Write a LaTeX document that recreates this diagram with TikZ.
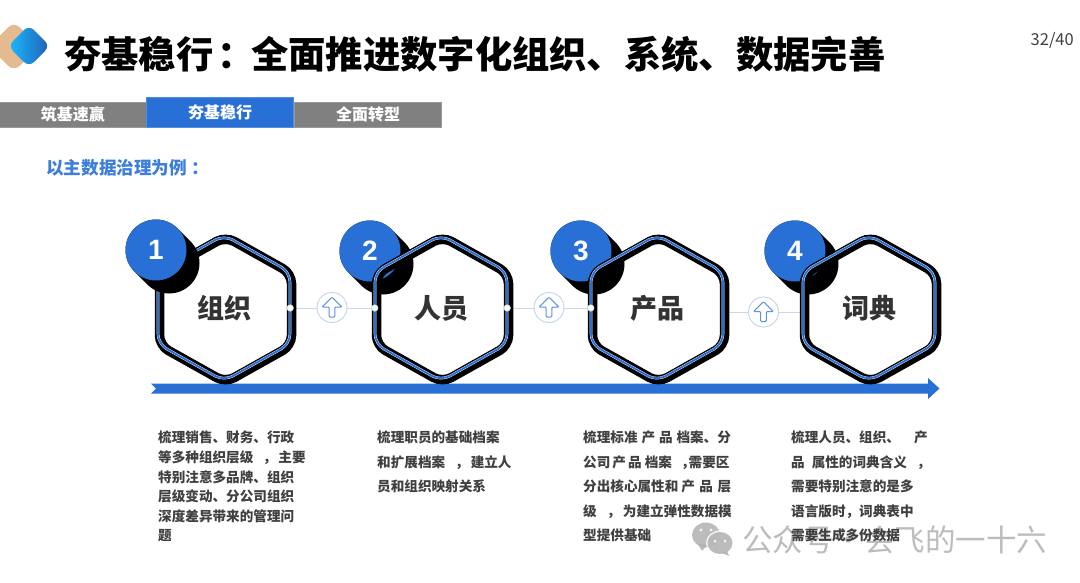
\documentclass[tikz,border=0pt]{standalone}
\usepackage{fontspec}
\setmainfont{Noto Sans CJK SC}
\newfontfamily\numfont{Liberation Sans}
\usepackage{xcolor}
\usepackage{tikz}
\usetikzlibrary{calc,shapes.arrows}
\definecolor{ink}{RGB}{64,64,64}
\definecolor{flowblue}{RGB}{40,112,214}
\definecolor{tabgray}{RGB}{128,128,128}
\definecolor{paleline}{RGB}{200,216,236}
\definecolor{tan}{RGB}{228,186,144}
\definecolor{markgray}{RGB}{176,176,176}
\tikzset{
  titletext/.style={anchor=west,inner sep=0pt,font=\fontsize{37.3}{37}\selectfont\bfseries,text=black},
  tabbox/.style={fill=#1,draw=#1!80!white,line width=0.6pt,inner sep=0pt,outer sep=0pt,text=white,
    minimum width=147pt,font=\fontsize{16}{16}\selectfont\bfseries},
  hexname/.style={minimum width=132pt,minimum height=30pt,inner sep=0pt,text=ink!80!black,
    font=\fontsize{27}{27}\selectfont\bfseries},
  hexshadow/.style={draw=black,line width=9.5pt,rounded corners=10pt},
  hexhalo/.style={draw=white,line width=2.6pt,rounded corners=10pt},
  hexline/.style={draw=flowblue,line width=1.9pt,rounded corners=10pt},
  badge/.style={circle,fill=flowblue,minimum size=61pt,inner sep=0pt,text=white,
    font=\numfont\fontsize{28}{28}\selectfont\bfseries},
  port/.style={circle,fill=white,draw=paleline,line width=0.6pt,minimum size=6.5pt,inner sep=0pt},
  link/.style={draw=paleline,line width=1pt},
  linkring/.style={circle,fill=white,draw=paleline,line width=1pt,minimum size=30pt,inner sep=0pt},
  linkarrow/.style={single arrow,shape border rotate=90,draw=flowblue!75!white,fill=white,line width=1pt,
    minimum width=20pt,minimum height=20pt,single arrow head extend=6pt,inner sep=1.8pt,rounded corners=1pt},
  bodytext/.style={anchor=north west,align=left,inner sep=0pt,text=ink,
    font=\fontsize{13.6}{#1}\selectfont\bfseries},
  wmark/.style={anchor=west,inner sep=0pt,text=markgray,opacity=0.85,font=\fontsize{30.5}{30}\selectfont}
}
% hexagon frame round the centre x,y
\newcommand{\hexpath}{(66,0) -- (66,36) -- (0,73) -- (-66,36) -- (-66,-36) -- (0,-73) -- (66,-36) -- cycle}
\newcommand{\hexframe}[2]{
  \draw[hexshadow,shift={(#1+1.5,#2+1.5)}] \hexpath;
  \draw[hexhalo,shift={(#1,#2)}] \hexpath;
  \draw[hexline,shift={(#1,#2)}] \hexpath;
}
% number disc with its swept shadow
\newcommand{\numdisc}[4]{
  \draw[black,line width=61pt,line cap=round] (#2,#3) -- ++(13,13);
  \node[badge] (#1) at (#2,#3) {#4};
}
\newcommand{\gap}[1]{\hspace{#1pt}}
\begin{document}
\begin{tikzpicture}[x=1pt,y=-1pt]
  \useasboundingbox (0,0) rectangle (1080,582);

  % logo
  \fill[tan,rounded corners=8pt] (14,21.5) -- (39,46.5) -- (14,71.5) -- (-11,46.5) -- cycle;
  \shade[left color=cyan!70!blue!90,right color=flowblue!85!black,rounded corners=7pt]
    (29,25) -- (50,46) -- (29,67) -- (8,46) -- cycle;

  \node[titletext] (title) at (64,54) {夯基稳行\gap{4}：\gap{-3.5}全面推进数字化组织、系统、数据完善};
  \node[anchor=east,inner sep=0pt,text=ink,font=\fontsize{16.5}{16}\selectfont] (page) at (1074,40) {32/40};

  \node[tabbox=tabgray,minimum height=25pt] (tabone) at (73,114.5) {筑基速赢};
  \node[tabbox=tabgray,minimum height=25pt] (tabthree) at (368,114.5) {全面转型};
  \node[tabbox=flowblue,minimum height=30pt] (tabtwo) at (220,112) {夯基稳行};

  \node[anchor=west,inner sep=0pt,text=flowblue!90!white,font=\fontsize{17.6}{18}\selectfont\bfseries] (lead) at (46,168)
    {以主数据治理为例\gap{5}：};

  % time axis
  \fill[flowblue] (151,383.5) -- (928,383.5) -- (928,378) -- (939.5,388.5) -- (928,399) -- (928,393.5)
    -- (151,393.5) -- (156,388.5) -- cycle;

  \node[hexname] (org) at (224,308) {\raisebox{-1pt}{组织}};
  \node[hexname] (staff) at (441,308) {\raisebox{-1pt}{人员}};
  \node[hexname] (prod) at (657,308) {\raisebox{-1pt}{产品}};
  \node[hexname] (dict) at (869,308) {\raisebox{-1pt}{词典}};

  \coordinate (prodout) at (725,312);
  \coordinate (dictin) at (803,312);
  \draw[link] (org.east) -- (staff.west);
  \draw[link] (staff.east) -- (prod.west);
  \draw[link] (prodout) -- (dictin);

  \node[linkring] (ringa) at (332,307.5) {};
  \node[linkring] (ringb) at (549,307.5) {};
  \node[linkring] (ringc) at (763.5,312) {};
  \node[linkarrow] (arrowa) at (332,308.5) {};
  \node[linkarrow] (arrowb) at (549,308.5) {};
  \node[linkarrow] (arrowc) at (763.5,313) {};

  \hexframe{224}{308}
  \numdisc{numa}{156}{250}{1}
  \numdisc{numb}{370}{251}{2}
  \hexframe{441}{308}
  \numdisc{numc}{581}{251}{3}
  \hexframe{657}{308}
  \numdisc{numd}{795}{251}{4}
  \hexframe{869}{308}

  \node[port] (orgport) at (org.east) {};
  \node[port] (staffin) at (staff.west) {};
  \node[port] (staffport) at (staff.east) {};
  \node[port] (prodin) at (prod.west) {};

  % watermark
  \begin{scope}[opacity=0.85]
    \fill[markgray] (706,535) ellipse [x radius=14,y radius=12.5];
    \fill[markgray] (698,544) -- (702,551) -- (707,545) -- cycle;
    \fill[white] (720,543) ellipse [x radius=14,y radius=12.5];
    \fill[markgray] (720,543) ellipse [x radius=12.5,y radius=11];
    \fill[markgray] (727,551) -- (729,556) -- (722,553) -- cycle;
    \fill[white] (701,530) circle (1.7) (711,530) circle (1.7) (715,541) circle (1.5) (725,541) circle (1.5);
  \end{scope}
  \node[wmark] (wmtext) at (742,540) {公众号·会飞的一十六};

  \node[bodytext=19.6] (orgtext) at (158,431) {梳理销售、财务、行政\\等多种组织层级\gap{9.5}，\gap{2}主要\\特别注意多品牌、组织\\层级变动、分公司组织\\深度差异带来的管理问\\题};
  \node[bodytext=24.5] (stafftext) at (377,431) {梳理职员的基础档案\\和扩展档案\gap{10}，\gap{2}建立人\\员和组织映射关系};
  \node[bodytext=24.5] (prodtext) at (583,431) {梳理标准\gap{4}产\gap{4}品\gap{3.7}档案、分\\公司\gap{2}产\gap{2}品\gap{3.3}档案\gap{9}，\gap{-6}需要区\\分出核心属性和\gap{3}产\gap{4.5}品\gap{4.5}层\\级\gap{10}，\gap{2.5}为建立弹性数据模\\型提供基础};
  \node[bodytext=24.5] (dicttext) at (791,431) {梳理人员、组织、\gap{14}产\\品\gap{7}属性的词典含义\gap{10}，\\需要特别注意的是多\\语言版时，词典表中\\需要生成多份数据};
\end{tikzpicture}
\end{document}
